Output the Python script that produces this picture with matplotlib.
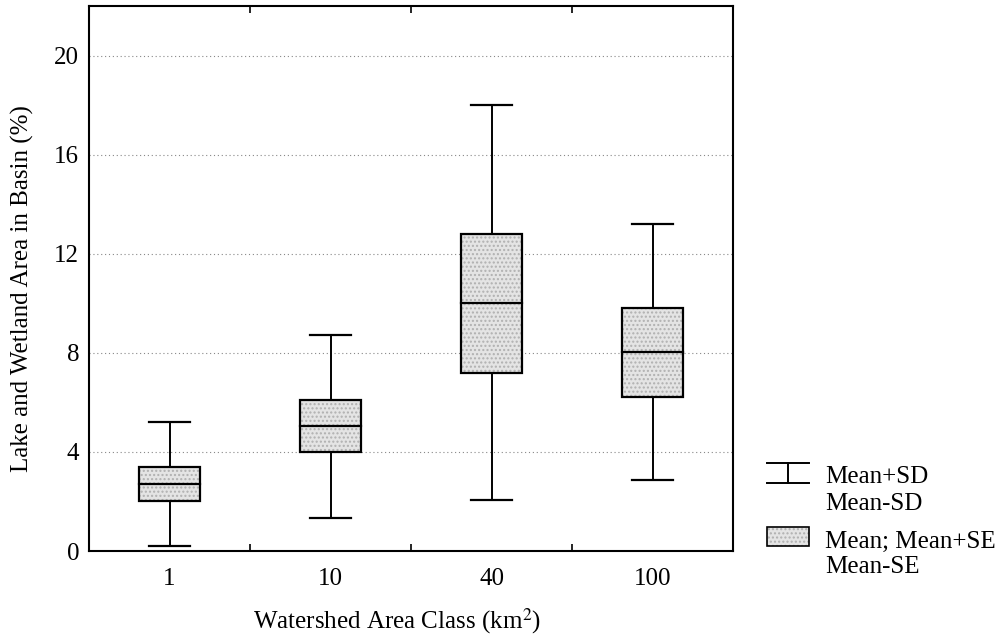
import matplotlib
matplotlib.use('Agg')
import matplotlib.pyplot as plt
import numpy as np
from matplotlib.patches import Rectangle

# values
classes = ['1', '10', '40', '100']
mean = [2.7, 5.05, 10.0, 8.05]
mean_plus_se = [3.4, 6.1, 12.8, 9.8]
mean_minus_se = [2.0, 4.0, 7.2, 6.2]
mean_plus_sd = [5.2, 8.7, 18.0, 13.2]
mean_minus_sd = [0.2, 1.35, 2.05, 2.85]
yticks = [0, 4, 8, 12, 16, 20]

plt.rcParams['font.family'] = ['Liberation Serif', 'DejaVu Serif']
plt.rcParams['mathtext.fontset'] = 'stix'
fs = 18

fig = plt.figure(figsize=(10.02, 6.38), dpi=100)
ax = fig.add_axes([89 / 1002, (638 - 551) / 638, (733 - 89) / 1002, (551 - 6) / 638])

box_fill = '#e4e4e4'
pos = np.arange(1, len(classes) + 1)
box_w = 0.38
cap_w = 0.25

for i, x in enumerate(pos):
    # SD whiskers
    ax.plot([x, x], [mean_plus_se[i], mean_plus_sd[i]], color='black', lw=1.4, zorder=3)
    ax.plot([x, x], [mean_minus_sd[i], mean_minus_se[i]], color='black', lw=1.4, zorder=3)
    ax.plot([x - cap_w / 2, x + cap_w / 2], [mean_plus_sd[i]] * 2, color='black', lw=1.6, zorder=3)
    ax.plot([x - cap_w / 2, x + cap_w / 2], [mean_minus_sd[i]] * 2, color='black', lw=1.6, zorder=3)
    # SE box, stippled look
    ax.add_patch(Rectangle((x - box_w / 2, mean_minus_se[i]), box_w,
                           mean_plus_se[i] - mean_minus_se[i],
                           facecolor=box_fill, edgecolor='#b0b0b0', hatch='....',
                           lw=0, zorder=3))
    ax.add_patch(Rectangle((x - box_w / 2, mean_minus_se[i]), box_w,
                           mean_plus_se[i] - mean_minus_se[i],
                           facecolor='none', edgecolor='black', lw=1.6, zorder=4))
    ax.plot([x - box_w / 2, x + box_w / 2], [mean[i]] * 2, color='black', lw=1.6, zorder=4)

ax.set_xlim(0.5, 4.5)
ax.set_ylim(0, 22)
ax.set_yticks(yticks)
ax.set_yticklabels([str(t) for t in yticks], fontsize=fs)
ax.set_xticks(pos)
ax.set_xticklabels(classes, fontsize=fs)
ax.tick_params(axis='x', length=0, pad=12)
ax.tick_params(axis='y', length=0, pad=7)
ax.set_xticks([1.5, 2.5, 3.5], minor=True)
ax.tick_params(axis='x', which='minor', direction='in', length=5, width=1.2, top=True)

ax.grid(axis='y', linestyle=(0, (1, 2.5)), color='#888888', lw=0.8, zorder=0)

for s in ax.spines.values():
    s.set_linewidth(1.5)

xl = ax.set_xlabel('Watershed Area Class (km$^2$)', fontsize=fs, va='baseline')
ax.xaxis.set_label_coords((397 - 89) / 644, (551 - 628) / 545)
ax.set_ylabel('Lake and Wetland Area in Basin (%)', fontsize=fs)
ax.yaxis.set_label_coords((34 - 89) / 644, (551 - 289) / 545)

# legend drawn in its own axes
lax = fig.add_axes([760 / 1002, (638 - 590) / 638, 242 / 1002, 140 / 638])
lax.set_xlim(760, 1002)
lax.set_ylim(590, 450)
lax.axis('off')
lax.plot([767, 809], [463, 463], color='black', lw=1.4)
lax.plot([788, 788], [463, 483], color='black', lw=1.4)
lax.plot([767, 809], [483, 483], color='black', lw=1.4)
lax.text(825, 483, 'Mean+SD', fontsize=fs, va='baseline')
lax.text(825, 510, 'Mean-SD', fontsize=fs, va='baseline')
lax.add_patch(Rectangle((767, 527), 42, 19, facecolor=box_fill, edgecolor='#b0b0b0',
                        hatch='....', lw=0))
lax.add_patch(Rectangle((767, 527), 42, 19, facecolor='none', edgecolor='black', lw=1.2))
lax.text(825, 548, 'Mean; Mean+SE', fontsize=fs, va='baseline')
lax.text(825, 573, 'Mean-SE', fontsize=fs, va='baseline')

fig.savefig('out.png', dpi=100)
